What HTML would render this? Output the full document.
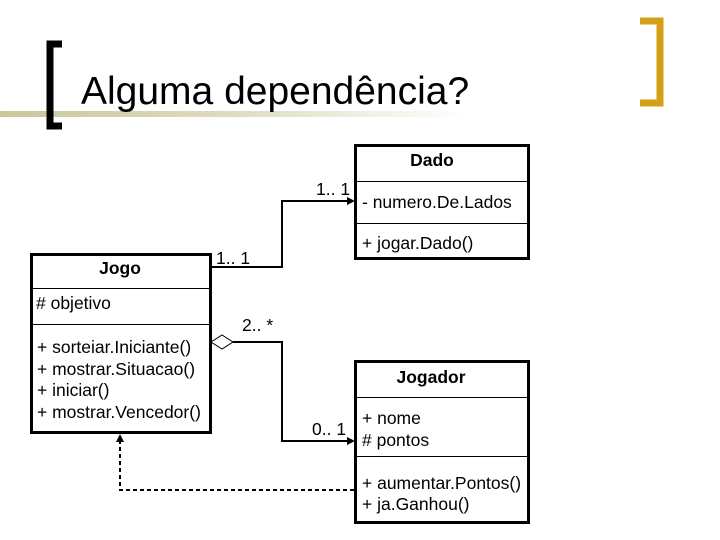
<!DOCTYPE html>
<html><head><meta charset="utf-8"><style>
body{margin:0;background:#fff;}
svg{display:block;font-family:"Liberation Sans",Arial,sans-serif;}
</style></head><body>
<svg width="720" height="540" viewBox="0 0 720 540" xmlns="http://www.w3.org/2000/svg">
<defs>
<linearGradient id="g" x1="0" x2="1" y1="0" y2="0">
<stop offset="0" stop-color="#c8c89a"/><stop offset="0.5" stop-color="#dedcc0"/><stop offset="1" stop-color="#fff"/>
</linearGradient>
</defs>
<rect x="0" y="111" width="470" height="6" fill="url(#g)"/>
<path d="M62 44 H50 V126 H62" fill="none" stroke="#000" stroke-width="7"/>
<path d="M640 21 H660 V103 H640" fill="none" stroke="#d4a017" stroke-width="7"/>
<text x="81" y="104" font-size="39">Alguma dependência?</text>

<g fill="none" stroke="#000">
<rect x="355.5" y="145.5" width="173" height="113" stroke-width="3"/>
<line x1="356" y1="181.5" x2="528" y2="181.5" stroke-width="1"/>
<line x1="356" y1="223.5" x2="528" y2="223.5" stroke-width="1"/>
<rect x="31.5" y="254.5" width="179" height="178" stroke-width="3"/>
<line x1="32" y1="288.5" x2="210" y2="288.5"/>
<line x1="32" y1="324.5" x2="210" y2="324.5"/>
<rect x="355.5" y="361.5" width="173" height="161" stroke-width="3"/>
<line x1="356" y1="397.5" x2="528" y2="397.5"/>
<line x1="356" y1="456.5" x2="528" y2="456.5"/>
<polyline points="211,267 282,267 282,201 350,201" stroke-width="2"/>
<polyline points="233,342 282,342 282,441 350,441" stroke-width="2"/>
<polygon points="211,342 222,335 233,342 222,349" stroke-width="1" fill="#fff"/>
<polyline points="354,490 120,490 120,440" stroke-width="2" stroke-dasharray="4,3"/>
</g>
<polygon points="355,201 347,197 347,205" fill="#000"/>
<polygon points="355,441 347,437 347,445" fill="#000"/>
<polygon points="120,434 116,442 124,442" fill="#000"/>

<g font-size="17.5" fill="#000">
<text x="432" y="166" font-weight="bold" text-anchor="middle">Dado</text>
<text x="362" y="208">- numero.De.Lados</text>
<text x="362" y="249">+ jogar.Dado()</text>
<text x="120" y="274" font-weight="bold" text-anchor="middle">Jogo</text>
<text x="36" y="309"># objetivo</text>
<text x="37" y="353">+ sorteiar.Iniciante()</text>
<text x="37" y="375">+ mostrar.Situacao()</text>
<text x="37" y="396">+ iniciar()</text>
<text x="37" y="418">+ mostrar.Vencedor()</text>
<text x="431" y="383" font-weight="bold" text-anchor="middle">Jogador</text>
<text x="362" y="424">+ nome</text>
<text x="362" y="446"># pontos</text>
<text x="362" y="489">+ aumentar.Pontos()</text>
<text x="362" y="510">+ ja.Ganhou()</text>
<text x="216" y="264">1.. 1</text>
<text x="316" y="195">1.. 1</text>
<text x="242" y="331">2.. *</text>
<text x="312" y="435">0.. 1</text>
</g>
</svg>
</body></html>
